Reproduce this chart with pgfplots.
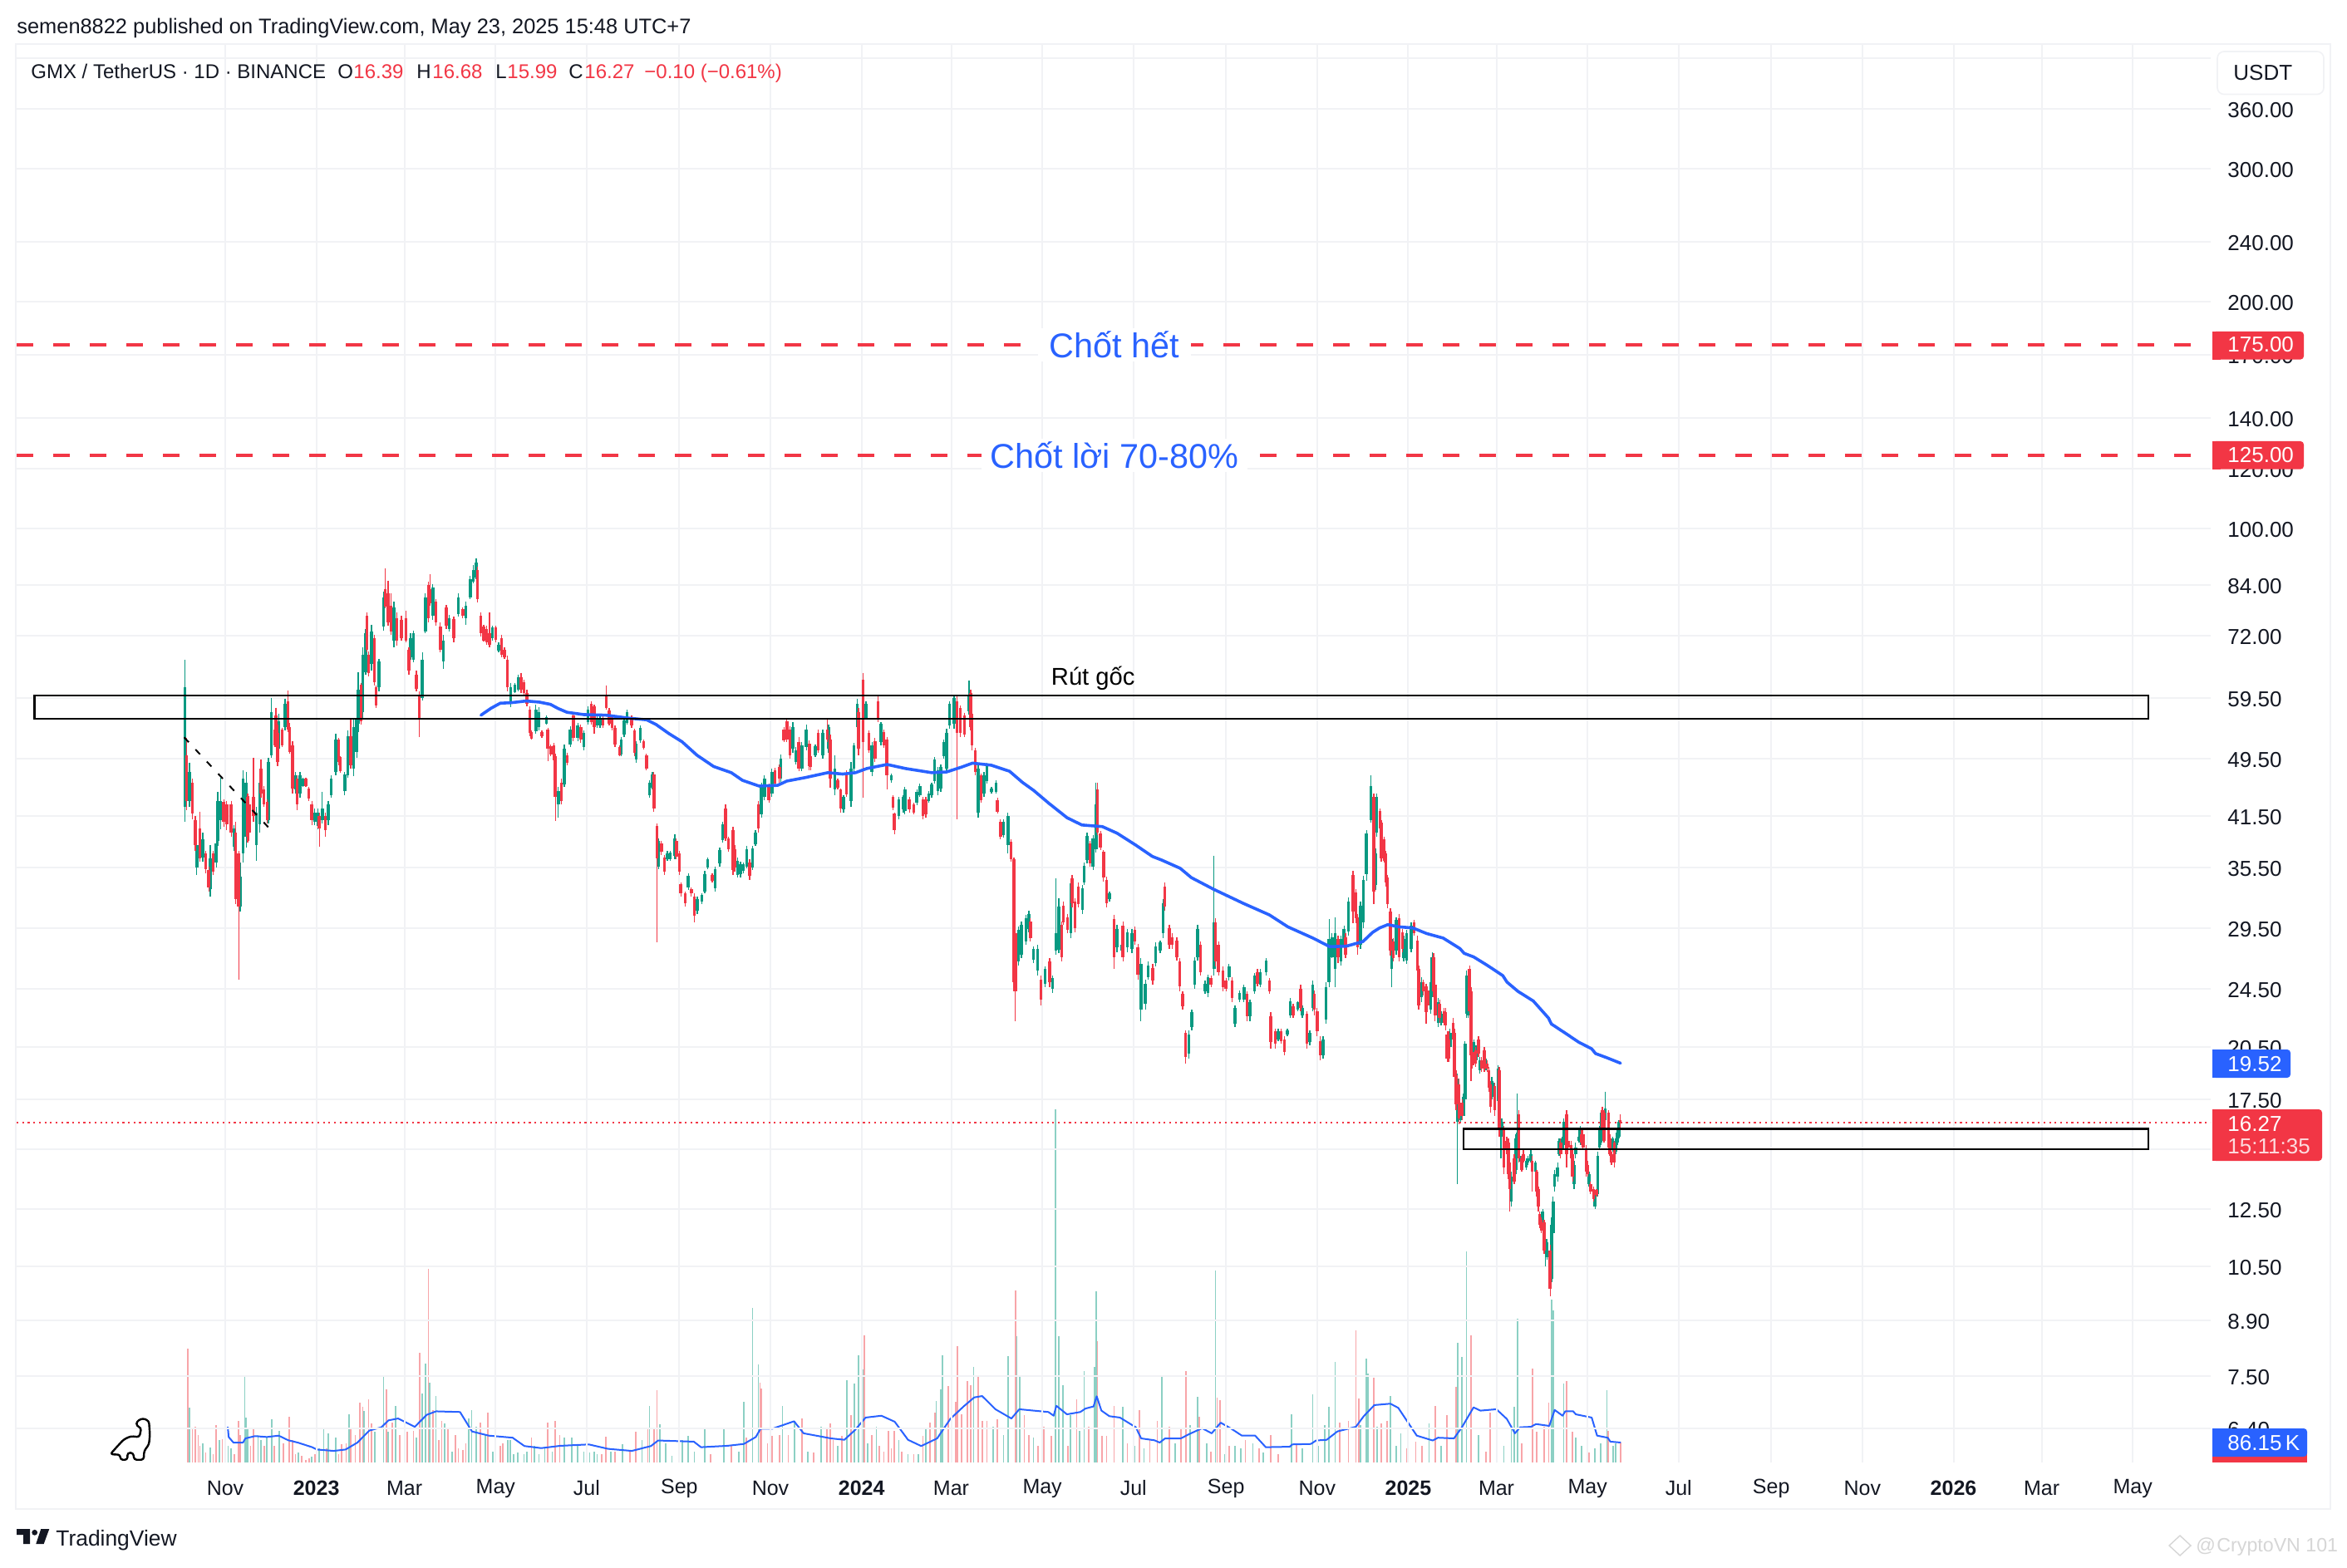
\documentclass[border=0pt]{standalone}
\usepackage{pgfplots}
\usepackage{pgfplotstable}
\usepackage{fontspec}
\setmainfont{Liberation Sans}
\pgfplotsset{compat=1.18}
\definecolor{tvred}{HTML}{F23645}
\definecolor{tvgreen}{HTML}{089981}
\definecolor{tvblue}{HTML}{2962FF}
\definecolor{tvink}{HTML}{131722}
\definecolor{tvgrid}{HTML}{F1F2F5}
\definecolor{volred}{HTML}{F8A5A9}
\definecolor{volgreen}{HTML}{8CD0C4}
\pgfplotstableread{
d o h l c
-27 42.7 66.9 40.8 61.6
-26 50 52.7 42.3 43.5
-24 43.5 48.9 42.7 47.5
-22 46 46.5 41.1 41.8
-20 41 41.5 37.3 38
-19 35.5 38.7 34.7 38
-17 40 42.1 36.1 36.5
-15 36.6 39.5 36.1 38.7
-13 37 37.3 34.9 35.3
-11 35.2 35.6 33 33.4
-10 33.2 38 32.5 36.5
-8 37 37.3 34.7 35
-6 36 38.8 35.5 38.2
-5 38.5 44.7 37.9 43.5
-3 41 46.7 39.9 43.5
-1 43.4 43.7 40.2 40.8
1 43 43.5 39.8 40.5
4 43 43.5 39 39.5
6 37.8 40.4 37.3 40
7 39.5 40.8 31.7 32.2
9 37 37.3 25.2 31.5
10 31.5 36 31 34.5
12 37 47.7 36 46.5
14 39 47.5 37.7 46
15 44 44.5 38.3 39
16 43 44.1 38.5 39.5
19 44 49.6 40.8 41.5
21 38 42.7 36.2 42
23 40.5 46.9 39.5 46
24 48 49.4 43.9 44.5
26 45 45.5 42.7 43
28 43.3 43.7 40.6 41
29 41 49.6 40.6 49
31 50 59.6 49.6 57
33 54 54.9 51.2 51.5
34 56.5 57.8 51.2 52
35 53.5 54.9 48.3 49
36 51 56.8 50.7 55.5
38 54 54.4 51.2 51.5
40 54.5 59.4 53.9 58.5
42 59 60.9 53.6 54
43 54.5 55.2 50.2 50.5
45 51.5 52.2 44.5 45.2
47 45 47.5 44.5 47
48 46.5 47 42.3 43
50 44.5 47.5 43.9 47
52 45.5 46.7 45.4 46.5
54 46.5 46.7 45.4 45.5
56 45.2 45.4 43.5 43.8
58 43 43.5 40.4 41
60 40.8 42.5 40.4 42
62 40.3 42.5 39.9 42
63 41.5 41.9 37.8 40
65 41 44.7 40.6 42.5
67 41.5 41.9 39 39.8
69 41 43.5 40.4 43
71 44.2 47 43.9 46.5
74 47.5 53.4 47 52.5
76 52.5 52.7 48.5 49
77 49.7 49.9 47.4 47.6
80 44.8 47.5 44.3 47.2
82 47 53.9 46.7 53
84 53 55.7 48 48.5
86 48 56 46.9 54.5
88 50.5 57.7 49.6 56
89 55 64.5 53.6 61
91 62 62.4 54.9 55.5
92 57 69.5 56 68
94 64.5 73.5 63.9 72.5
95 76.5 77.4 68.4 69
96 68 68.7 63.6 64.2
98 66 74.5 64.7 73
100 71.5 72.2 61.9 62.5
101 61.5 61.9 57.7 58.2
103 61.5 67.1 60.7 66.5
106 74 82.3 73.2 81
107 83 88.5 78.3 78.8
109 82 85.2 74.3 75
111 79 82 72.2 73
113 71 79.9 69.5 78.5
115 76 77.4 69.8 71
118 75.5 76.6 70.9 71.5
121 76 77.8 70.6 71
123 69 69.5 64 64.8
124 67.5 72.5 66.9 71.5
126 67 73.2 66.4 72.5
128 64 64.7 60.7 61.3
130 60 60.7 52.9 56
132 59.5 68.4 59.1 67
134 73 82 72.5 81
136 84 84.9 75 76
137 83 87 79 79.5
139 76.5 84.4 75.5 83.5
141 80 80.5 74.3 75
144 74 75 68.4 69
146 66.5 72.2 65 71
148 78.5 79.1 73.5 74.2
150 73.5 76.8 72.9 76
153 75.8 76.4 70.5 71.5
156 77 82 76.4 81
159 78.2 78.6 75.9 76.5
161 76 80 74.5 79
164 81 86.4 80.5 85.5
166 85 89.3 84.5 88
168 86 91.2 85.5 90
169 88 88.9 79.7 80.5
171 76.5 77.4 71.9 72.5
173 74 74.5 70.7 71
175 73.5 74.3 70 70.5
177 72.5 77.4 69.5 70
179 71.5 74.3 70.9 73.8
181 73.8 74.3 70.6 71.2
183 68.8 70.5 68.4 70
185 71.5 72.2 67.4 68
187 69 69.5 67.1 67.5
189 67 67.8 60.7 61.5
191 59 62.4 57.9 61.5
194 60.6 62.4 60.4 62
196 61 64 60.7 63.5
198 63.5 64.3 60.4 61
200 62.5 63 60.1 60.5
202 60.5 61 58 58.5
204 57.5 58 53 53.5
205 53.7 53.9 52.4 52.6
208 53.8 58.3 53.4 57.5
210 54.5 57.9 53.9 57
212 53.7 53.9 52.7 53
215 55 56.5 54.9 56.2
216 54 54.4 49.1 51
218 51.4 51.6 49.9 50.1
220 51.5 51.9 48.9 49.2
221 49.8 50.2 40.9 44
223 43 45.4 41.3 44.8
225 46 46.5 43 43.5
227 45.7 51.6 45.4 51
229 50 50.4 48.5 48.8
231 51.6 54.6 51.2 54
233 56.5 57 52.2 52.7
236 52.7 55.2 52.2 54.8
238 54.5 54.9 51.9 52.4
240 51.2 53.9 50.7 53.5
243 55.3 58 54.9 57.5
245 58.5 59 54.9 55.3
247 58 58.3 53.4 54.5
249 54.7 56.3 54.4 56
251 54.8 56.3 54.4 56
253 56 56.3 54.4 54.7
255 60 61.9 57.4 57.8
257 57.3 57.7 54.7 55
259 56.2 56.5 53.9 54.3
261 54.4 54.7 51.2 51.6
264 51.2 51.5 49.8 50
265 50.1 52.9 49.8 52.5
267 53.2 56 52.9 55.6
269 55.2 57.4 54.9 57
272 56.2 56.5 54.4 54.7
274 53.9 54.2 49.9 50.3
275 49.3 52.2 48.9 51.8
278 52.3 54.7 51.9 54.4
280 52.2 52.4 50.9 51.1
282 50 50.2 47.7 48
284 44.2 46.3 43.9 46
286 45.3 47.5 45 47.2
287 47.2 47.5 42.1 42.5
289 40.3 40.6 28.2 36.5
290 35.6 38.8 35.3 38.5
292 38.2 38.5 36.9 37.2
294 36.6 36.9 34.7 35
296 36.4 37.3 36.2 37
298 36.4 37.3 36.2 37.1
301 36.8 39.3 36.4 38.8
302 38.5 38.8 36.4 36.7
304 37 37.3 34.7 35
305 33.7 33.9 32.5 32.8
308 32.8 33 31.5 31.8
310 33.4 34.9 33.1 34.6
312 33.2 33.4 32.5 32.8
314 32.5 32.8 30 30.6
316 31.1 32.5 30.8 32.2
319 32 32.8 31.7 32.6
321 33 35.1 32.8 34.8
323 35.5 36.6 35.3 36.4
326 34.7 34.9 33.9 34.1
328 33.3 35.6 33 35.3
331 35.9 37.7 35.6 37.4
333 38.6 40.8 38.3 40.5
335 42.5 43 38.5 38.8
337 38.8 39 37.2 37.5
340 39.8 40.2 34.7 35.2
341 37.5 38 35 35.5
343 34.7 36.6 34.4 36.2
345 34.8 36.1 34.4 35.8
347 35.1 36 34.9 35.8
349 35.6 37.9 35.4 37.5
351 36 36.4 34.2 34.6
353 35.5 37.9 35.2 37.6
355 38.1 39.8 37.9 39.5
357 43 43.5 39.5 40
359 41.7 46 41.3 45.5
361 44 47 43.6 46.5
364 45.5 45.8 43.2 43.6
366 44.5 48 44 47.5
368 47.8 48.1 45.4 45.8
371 48.2 48.6 46 46.5
372 46.5 50.1 46 49.5
374 54 54.5 52 52.3
376 55.5 56 52 52.5
378 54 54.6 49.5 50
380 51 55.3 50.3 54.5
382 49 51.2 48.6 50.8
384 52 52.9 47.6 48
386 48 52.1 47.6 51.5
389 51.2 54.9 50.7 54
391 51.8 52.3 47.8 48.3
392 49.8 50.1 47.8 48.2
395 50 51.7 49.7 51.4
397 53.5 54 50.3 50.8
400 50 54 49.5 53.5
403 54 56 52 52.5
404 51 54.9 50.3 54.5
405 52.5 53.2 45.3 46.5
408 45 50 44.3 48
410 46.3 46.6 45 45.3
412 45 45.2 42 42.5
414 42.4 44.3 42 44
416 47.2 47.8 44 44.4
419 43.5 49 42.7 48
421 48 51.9 47.5 51.5
423 54.5 59.4 53.9 58.5
424 57 57.8 50 51
427 63 64.3 43.9 52
429 56 58.9 55.7 58.5
431 53.5 53.9 50.3 50.8
433 47.5 52.1 46.9 51.5
435 52.2 52.7 49 49.5
437 59 60 55.3 55.7
439 52 55.3 51.5 55
441 53.7 54 51.1 51.5
443 52.5 52.9 45 47
446 46.3 47.3 46 47
447 44 44.3 42.3 42.6
448 41.8 42 39.3 39.8
451 41.5 44 41.1 43.7
454 42.4 44.3 42 44
455 42.2 45.4 41.7 45
458 43.7 44 42 42.4
461 43 43.2 41.7 42
463 43.2 45 42.9 44.7
465 44.2 45.8 44 45.5
467 43.7 44 41.1 41.5
469 43.7 44 41.3 41.7
471 43.5 44.8 43.2 44.5
473 44.2 46 43.9 45.7
475 46.2 49.7 45.8 49.3
477 44.8 48.2 44.3 47.8
479 45.2 48.6 44.7 48.2
481 49.8 52.4 49.5 52
483 48 54.2 47.5 53.5
485 54.7 59 54.2 58.5
488 55 60 54.2 59.5
490 59 60 41.1 53.5
492 57.7 58.2 52.9 53.5
495 56.5 56.9 52.9 53.2
498 57.2 62.8 56.6 60
499 60.5 61 53.9 54.5
500 56.8 57.2 50.7 51.5
502 50.7 51.1 47 47.5
504 42 48.6 41.3 48
506 47 47.3 43.2 43.6
508 44.5 47.5 44 47
510 46.2 48.8 45.8 48.4
513 44.7 45.4 44.5 45.2
516 44.7 46.3 44.5 46
517 43.6 43.9 41.8 42.1
519 40.8 41.1 38.7 39
521 39.2 41.1 38.9 40.8
524 38 41.9 37 41.5
526 38.4 38.7 36.1 36.4
528 36.4 36.6 24.3 25
529 29 29.6 22.2 24.3
531 26.6 29.6 26.3 29.3
533 27.2 30.1 26.9 29.8
536 28.3 30.7 28 30.4
538 29.4 31.1 29.1 30.8
539 30.1 30.4 28.3 28.6
541 26.8 27.9 26.5 27.7
544 25.9 28 25.5 27.7
546 25.2 25.5 23.3 23.7
549 24.9 26.2 24.6 26
552 26.6 26.9 24.6 25
554 24.5 25.5 24.2 25.3
556 27.5 34.3 27.2 29
558 27.6 32.3 27.3 31.5
560 29.8 30.1 26.6 27
561 31.6 32 29.8 30
564 30.5 30.8 29 29.3
566 29 34.2 28.6 33.8
567 34.3 34.7 31.4 31.8
569 32 32.3 29.1 29.5
571 33.5 33.9 31.4 31.7
574 31.2 33.6 30.8 33.3
575 33.9 36 33.6 35.7
577 36.3 39.5 35.9 39.1
579 38.2 38.5 35.6 35.9
581 35.6 39.2 35.2 38.8
583 37.5 46 37.1 43
584 45 46 39.2 39.5
586 39.4 39.7 37.4 37.7
588 37.2 37.4 34 34.4
590 34.2 34.5 31.4 31.8
592 32.2 33 32 32.8
595 30.3 30.7 26 27
597 27.8 29.8 27.4 29.4
600 27.5 28.3 27.3 28
601 29.7 30.1 26.6 27
604 27.8 29.4 27.4 29.1
607 27.7 29.4 27.3 29
609 29.3 29.6 28 28.3
611 27.8 28.1 25.2 25.6
613 23 26.9 22.2 26.4
616 23.4 25.2 23 24.9
618 25.4 26.6 25.2 26.3
621 26.1 26.4 24.8 25.1
623 26.5 28.2 26.2 27.9
626 27.5 28.4 27.3 28.2
628 29 32.2 28.6 31.8
629 33.5 33.9 31.1 31.5
632 29.5 29.8 27.7 28
634 28.7 29 27.7 28
637 28.4 28.7 26.7 27
639 26.6 26.9 24.3 24.7
641 24.1 24.3 23 23.2
643 21.4 21.6 19.5 19.9
645 20.1 21.6 19.8 21.3
647 21.8 23 21.6 22.8
649 24.8 27 24.5 26.7
651 27 29.8 26.7 29.4
653 28 28.3 25.5 25.8
656 24.3 25.1 24.1 24.9
658 24.2 25.6 23.9 25.4
660 25.3 25.5 24.6 24.8
662 26 36.8 25.5 30
663 30 30.4 26.2 26.6
665 28 28.3 25.5 25.8
668 25.9 26.2 24.3 24.6
670 25.1 25.3 24.3 24.5
672 25.4 26.4 25.1 26.2
674 25.1 25.4 23.5 23.8
676 22 23.3 21.8 23.1
679 23.7 24.4 23.5 24.2
682 23.7 24.8 23.5 24.6
684 24.1 24.3 22.2 22.5
686 22.5 23.7 22.2 23.5
689 24.3 25.7 24.1 25.5
691 25.8 26 24.7 24.9
693 24.8 26 24.6 25.8
697 25.8 26.9 25.5 26.7
699 25.1 25.3 24.1 24.3
700 22.5 22.8 20.4 20.8
703 21.5 21.7 20.4 20.7
705 21 21.7 20.9 21.5
707 21.5 21.7 20.7 20.9
709 21 21.2 20 20.2
711 21.3 21.7 21.2 21.6
713 22.6 23.8 22.4 23.6
715 23.2 23.4 22.4 22.6
718 23 23.6 22.9 23.5
720 24.5 24.8 22.9 23.1
721 22.6 23.3 22.4 23.1
724 22.7 22.9 20.4 20.7
726 20.8 21.6 20.6 21.4
728 23.1 25.1 22.9 24.8
729 24.1 24.4 22.6 23
731 22.9 23.1 21.2 21.5
733 20.9 21.2 19.7 20
735 20 21.2 19.8 21
737 22.3 25 22 24.6
739 25 30.3 24.6 28.5
741 27 29 26.9 28.7
743 26 30.5 24.6 29
745 28.5 28.8 26.5 27
747 26.6 28.8 26.3 28.5
749 27.8 29.7 27.5 29.4
750 28.7 29 26.9 27.2
752 29.2 32.4 28.8 32
755 34.7 35.1 29.9 31
757 32.9 33.2 29.9 30.4
758 30.5 30.8 27.2 27.8
760 28 32 27.7 31.6
762 30 34.6 29.5 34.2
764 34.8 39.8 34.1 39.4
767 41 47 40.7 45.5
769 44 44.5 31.7 33
770 33.6 37.6 33.1 37
771 39.5 44.5 39 44
773 42.2 42.5 39.7 40
774 40.7 41 36.1 36.5
776 38.7 39 36 36.2
777 37 37.3 33.5 33.9
778 34.4 34.7 31.3 31.7
780 31 31.3 27.1 27.5
781 26 29.7 24.6 28.5
782 28.3 28.6 26.6 26.9
784 27.5 30.5 27.2 30.2
786 30.4 30.8 26.6 27
788 29.1 29.4 27.4 27.7
789 26.9 28.8 26.6 28.5
791 26.7 29.3 26.4 29
794 27.7 30 27.4 29.7
796 30 30.2 28.8 29
798 28.4 28.8 25.6 25.9
799 26 26.3 23 23.3
801 23.9 25.4 23.5 25
802 25 25.2 24 24.3
804 24.7 24.9 22 22.8
805 24.4 24.6 23 23.3
807 23 25.3 22.7 25
808 24.3 27.4 23.9 27
809 27 27.3 23.9 24.3
810 24.8 25 22.2 22.6
812 22.1 23.8 21.8 23.5
813 23.4 23.7 22.1 22.4
814 22.1 22.9 21.9 22.7
816 22.9 23.1 21.9 22.1
817 22.8 23.1 21.6 21.9
818 21.3 21.5 19.6 19.8
819 21 21.5 19.6 19.8
820 20.5 21.7 20.3 21.4
822 22.1 22.4 20.8 21
823 21.4 21.7 18.3 18.7
824 18.8 19.1 16.9 17.2
825 16.3 18.9 13.5 18.6
826 18.3 18.6 16.2 16.5
827 16.4 17.2 16.3 17
828 17.3 17.5 16.4 16.6
829 16.8 17.8 16.6 17.6
830 17.5 20.9 16.6 20.7
831 22.7 25.9 22.4 25.5
832 22.6 24.9 22.4 24.6
833 26 26.3 22.7 22.9
834 24.3 24.6 18.5 20
835 20.2 20.4 19.2 19.4
836 19.7 21 19.5 20.8
837 20.3 20.5 19.3 19.5
838 19.9 20.8 19.7 20.6
839 21 21.2 19.9 20.1
840 19.1 19.9 18.9 19.7
841 19.7 19.9 19 19.2
843 20.3 20.5 19 19.2
844 19.3 19.8 19.1 19.6
845 19.5 19.7 19 19.2
846 19.1 19.3 17.9 18.1
847 18.3 18.5 16.8 17.1
848 17.7 18.7 17.5 18.5
849 17.8 18.4 17.6 18.2
850 18.2 18.4 16.6 16.9
852 17.4 19.4 17.2 19.2
853 19.1 19.3 15.6 16
854 15.6 16.5 14.6 16.4
855 15.8 16.5 15.6 16.3
856 15.9 16.1 13.9 14.2
858 15.4 15.6 14.8 15
859 15.3 15.5 13.7 13.9
860 14.4 14.6 12.4 13.3
861 12.8 14 12.6 13.8
863 14.6 14.8 13.5 13.6
864 14.1 15.7 13.9 15.5
865 14.6 17.8 14.4 15.8
866 16.7 16.9 14.4 14.6
867 14.45 14.7 14.4 14.65
868 14.6 14.7 14 14.1
869 14.8 15 14.4 14.5
871 14.2 14.6 14.1 14.5
872 14.4 14.7 14.3 14.6
874 14.5 15 14.4 14.8
875 14.5 14.7 13.2 14
877 14 14.5 13.9 14.4
878 14 14.1 13 13.2
879 13.3 13.4 12.4 12.6
880 12.3 12.4 11.8 11.9
881 12.1 12.2 11.6 11.7
882 12 12.5 11.9 12.4
883 12 12.1 10.9 11
884 10.9 11.5 10.5 11.4
885 10.8 11.4 10.7 11.3
887 11 11.2 9.57 9.8
888 10.1 12.2 10 11.9
889 11.6 13 11.4 12.8
890 13.4 14.1 13.2 13.9
892 13.8 14.4 13.6 14.2
893 14.8 15.5 14.7 15.4
894 15.3 15.5 14.6 14.8
895 15 15.6 15 15.5
896 15.2 16.5 15 16.3
898 16.7 16.9 14.2 14.8
899 15.4 15.5 15 15.1
901 15.2 15.4 14.4 14.6
902 14.8 15 13.6 13.8
903 13.5 14.5 13.3 14.3
904 14.8 15.3 14.6 15.1
906 15.4 15.7 15.3 15.6
907 15.3 16.1 15.2 16
908 15.7 15.9 15.2 15.3
909 15.7 15.9 15 15.1
911 15 15.2 13.8 14
912 14.3 14.5 13.8 13.9
913 13.5 14 13.4 13.9
914 13.5 13.6 13.1 13.2
916 13.3 13.4 12.8 12.9
917 12.6 13.1 12.5 13
918 13.25 13.3 13 13.05
919 13.1 14.9 13 14.7
920 15.1 16.1 15 16
921 15.3 16.9 15.2 16.8
922 16.9 17.1 15.9 16
923 16.8 16.9 15.3 15.4
924 16.4 17.9 16.3 17
926 16.8 16.9 15 15.1
927 15.5 15.7 14.7 14.8
928 14.8 14.9 14.3 14.4
929 15 15.6 14.9 15.5
930 15.3 15.4 14.2 14.4
931 14.9 15.6 14.8 15.5
932 15.3 15.9 15.2 15.8
933 15.6 16.4 15.5 16.3
934 16.39 16.68 15.99 16.27
}\candles
\pgfplotstableread{
d v
-25 492
-22 144
-20 156
-18 117
-17 72
-13 42
-8 36
-6 162
-2 102
0 132
6 36
9 180
10 120
17 72
19 144
26 72
33 72
39 84
43 198
45 96
47 36
51 30
54 12
56 18
60 36
68 60
76 36
78 78
81 84
84 144
87 120
90 257
92 239
96 273
98 168
108 316
112 174
117 120
122 132
126 138
130 474
136 837
139 227
143 96
145 180
149 144
154 120
156 60
159 54
161 84
171 174
176 215
181 36
184 72
186 84
205 108
216 174
221 180
224 120
252 36
255 110
261 48
271 48
275 134
283 144
287 144
289 314
304 144
325 36
339 72
349 108
358 344
359 318
363 84
366 114
371 120
377 120
386 189
394 42
403 150
405 168
407 96
413 114
419 203
428 549
433 120
438 72
441 48
444 138
446 60
448 138
453 48
461 36
467 114
472 174
475 215
484 329
489 263
490 503
493 209
497 353
499 335
504 371
507 180
510 180
517 186
529 742
535 203
538 120
544 72
548 156
553 114
564 72
570 273
578 156
584 524
587 114
590 114
595 243
604 84
612 227
619 96
624 180
632 156
640 144
643 395
652 198
660 48
664 279
666 269
672 72
683 96
692 60
700 120
705 36
717 78
746 174
752 180
757 571
759 275
769 365
774 168
778 180
791 60
797 90
801 72
810 245
818 203
824 326
834 549
844 48
847 215
851 138
868 84
875 407
878 132
883 156
886 257
898 351
902 132
913 42
926 138
934 86.15
}\voldown
\pgfplotstableread{
d v
-24 236
-15 84
-10 66
-4 96
2 72
4 60
13 371
14 194
15 144
22 120
24 96
28 108
31 186
36 135
49 42
58 24
63 60
66 146
69 126
74 108
83 209
93 221
100 132
106 377
109 132
114 244
120 144
128 108
132 299
134 426
137 345
141 287
147 168
152 48
163 192
165 227
168 156
174 120
179 48
189 96
191 96
193 36
196 42
200 36
202 48
207 72
210 36
214 60
219 48
227 108
232 108
236 72
240 48
244 42
247 48
249 36
258 48
266 78
279 96
284 245
291 165
295 84
299 30
306 96
310 114
314 48
321 150
334 150
344 48
347 261
353 667
357 423
373 243
381 180
390 48
399 156
410 72
416 356
421 341
424 462
427 401
430 84
436 156
451 96
457 36
464 36
469 144
476 266
479 317
480 462
486 431
501 414
514 156
521 120
524 460
530 545
532 371
541 108
556 1526
558 545
561 335
566 203
572 138
575 395
582 413
583 740
601 239
609 72
615 60
627 371
636 84
646 162
651 282
657 84
663 830
669 36
676 72
680 60
688 84
695 42
714 209
721 60
728 293
732 72
736 162
739 239
743 433
760 162
764 449
765 383
771 156
780 287
784 72
787 126
806 168
814 72
825 518
828 455
831 912
839 120
856 72
861 156
863 239
865 620
888 703
889 657
896 341
904 108
908 72
917 60
921 84
925 311
929 72
931 84
}\volup
\pgfplotstableread{
d v
1.7 154
2.3 110
5.5 86
11.9 86
13.5 104
19.9 114
27.9 110
35.8 116
42.2 96
48.6 86
58.2 66
61.4 56
72.6 50
80.6 56
88.5 86
96.5 138
104.5 152
109.3 182
115.7 190
126.9 154
134.9 206
141.2 221
157.2 218
165.2 134
176.4 116
192.4 107
200.3 71
211.5 62
224.3 72
243.4 78
256.2 59
272.2 50
285 71
289.8 95
313.7 90
318.5 66
336.1 72
347.2 80
355.2 110
358.4 146
366.4 146
380.8 178
387.2 126
405.6 104
414.5 98
421.6 140
428.7 194
439.3 202
448.2 176
457.1 98
465.9 71
476.6 104
485.4 188
494.3 242
501.4 281
506.7 287
515.6 230
526.3 190
531.6 230
551.1 218
554.6 202
556.4 245
563.5 208
572.4 218
575.9 233
581.3 242
583.4 286
586.6 224
591.9 200
599 194
609.6 152
613.2 104
622 96
625.6 86
629.2 104
639.8 104
645.1 122
654 148
660.4 126
666.4 172
673.5 146
680.6 116
689.5 116
696.6 66
712.6 68
714.3 78
726.8 80
730.3 95
737.4 98
744.5 134
756.9 154
762.2 200
769.3 248
780 254
785.3 236
797.7 116
808.4 95
811.9 107
822.6 104
827.9 152
835.7 238
840.3 224
851 230
858 188
863.4 126
866.9 152
874 154
877.6 166
886.4 158
890 227
895.3 202
897.1 221
902.4 221
904.2 208
914.8 194
918.4 116
925.5 107
927.3 90
934.3 86.15
}\volma
\pgfplotstableread{
d p
171.2 56.5
177.9 57.7
184.1 58.6
191.6 58.7
201.5 59
210.2 58.8
217.7 58.4
222.6 57.7
228.8 57
240 56.6
254.9 56.5
269.8 56
282.2 55.7
288.5 54.9
297.1 53.4
305.8 52.1
315.8 50
327 48.3
338.8 47.4
346.3 46.3
357.4 45.5
369.8 45.6
376 46.2
388.5 46.7
403.4 47.4
413.3 47.2
422 47.4
429.5 48
443.1 48.6
455.5 48
472.9 47.4
482.9 47.5
492.8 48.2
500.3 48.8
512.7 48.5
525.1 47.6
533.8 46
541.2 44.9
551.2 43.2
563.6 41.3
573.5 40.4
587.2 40.2
597.1 39.4
609.5 38
620.7 36.7
626.9 36.3
639.3 35.4
646.8 34.4
661.7 33.2
681.6 31.8
699 30.7
711.4 29.6
728.2 28.6
739.4 27.86
750.5 27.9
761.7 28.3
768.1 29.1
772.8 29.5
778.3 29.8
785.8 29.6
795 29.5
804.3 29
815.4 28.6
826.6 27.7
829.4 27.3
835.8 27
845.1 26.3
855.3 25.5
858.1 25
865.5 24.3
875.7 23.6
885.9 22.4
887.8 22
897 21.4
906.3 20.8
914.7 20.4
917.4 20.1
924.9 19.85
934.1 19.52
}\priceMA
% shared geometry of the pane
\pgfplotsset{pane/.style={
  scale only axis, width=1320pt, height=853.5pt,
  at={(10pt,63pt)}, anchor=south west,
  xmin=-139.65, xmax=1329.2, clip=true,
}}
\newcommand{\Px}[2]{({#1*0.5pt},{(1886-#2)*0.5pt})}
\newcommand{\tvtxt}[4][tvink]{\node[anchor=west,inner sep=0pt,text=#1,font=\fontsize{13}{15}\selectfont] at \Px{#2}{#3} {\strut #4};}
\newcommand{\lgtxt}[4][tvink]{\node[anchor=west,inner sep=0pt,text=#1,font=\fontsize{12}{14}\selectfont] at \Px{#2}{#3} {\strut #4};}
\begin{document}
\begin{tikzpicture}
\path[use as bounding box] (0,0) rectangle (1412pt,943pt);
\fill[white] (0,0) rectangle (1412pt,943pt);
\draw[tvgrid,line width=1pt] \Px{19}{53} rectangle \Px{2804}{1816};
% volume pane
\begin{axis}[pane, hide axis, ymin=0, ymax=6128]
\addplot[ycomb, no markers, draw=volred, line width=0.85pt] table[x=d,y=v] {\voldown};
\addplot[ycomb, no markers, draw=volgreen, line width=0.85pt] table[x=d,y=v] {\volup};
\addplot[no markers, draw=tvblue, line width=1pt, line join=round] table[x=d,y=v] {\volma};
\end{axis}
% price pane
\begin{axis}[pane, ymode=log, ymin=5.765, ymax=438.8,
  axis line style={draw=none}, tick style={draw=none}, major tick length=0pt,
  grid=major, grid style={draw=tvgrid, line width=1pt},
  xtick={0,61,120,181,242,304,365,426,486,547,608,670,731,792,851,912,973,1035,1096,1157,1216,1277},
  xticklabels={Nov,\textbf{2023},Mar,May,Jul,Sep,Nov,\textbf{2024},Mar,May,Jul,Sep,Nov,\textbf{2025},Mar,May,Jul,Sep,Nov,\textbf{2026},Mar,May},
  x tick label style={anchor=center, yshift=-15.5pt, inner sep=0pt, text=tvink, font=\fontsize{12.5}{15}\selectfont},
  yticklabel pos=right,
  ytick={6.4,7.5,8.9,10.5,12.5,15,17.5,20.5,24.5,29.5,35.5,41.5,49.5,59.5,72,84,100,120,140,170,200,240,300,360,420},
  yticklabels={6.40,7.50,8.90,10.50,12.50,,17.50,20.50,24.50,29.50,35.50,41.50,49.50,59.50,72.00,84.00,100.00,120.00,140.00,170.00,200.00,240.00,300.00,360.00,},
  y tick label style={anchor=west, xshift=10pt, yshift=-0.8pt, inner sep=0pt, text=tvink, font=\fontsize{13}{15}\selectfont},
  log basis y=10,
]
% wicks
\addplot[draw=none, no markers, forget plot, restrict x to domain=-200:2000,
  error bars/.cd, y dir=minus, y explicit, error mark=none,
  error bar style={draw=tvgreen, line width=0.65pt}]
  table[x expr={\thisrow{c}>=\thisrow{o} ? \thisrow{d} : 5000}, y=h, y error minus expr={\thisrow{h}-\thisrow{l}}] {\candles};
\addplot[draw=none, no markers, forget plot, restrict x to domain=-200:2000,
  error bars/.cd, y dir=minus, y explicit, error mark=none,
  error bar style={draw=tvgreen, line width=1.75pt}]
  table[x expr={\thisrow{c}>=\thisrow{o} ? \thisrow{d} : 5000}, y=c, y error minus expr={\thisrow{c}-\thisrow{o}}] {\candles};
\addplot[draw=none, no markers, forget plot, restrict x to domain=-200:2000,
  error bars/.cd, y dir=minus, y explicit, error mark=none,
  error bar style={draw=tvred, line width=0.65pt}]
  table[x expr={\thisrow{c}<\thisrow{o} ? \thisrow{d} : 5000}, y=h, y error minus expr={\thisrow{h}-\thisrow{l}}] {\candles};
\addplot[draw=none, no markers, forget plot, restrict x to domain=-200:2000,
  error bars/.cd, y dir=minus, y explicit, error mark=none,
  error bar style={draw=tvred, line width=1.75pt}]
  table[x expr={\thisrow{c}<\thisrow{o} ? \thisrow{d} : 5000}, y=o, y error minus expr={\thisrow{o}-\thisrow{c}}] {\candles};
% moving average
\addplot[no markers, draw=tvblue, line width=1.8pt, line cap=round, line join=round] table[x=d,y=p] {\priceMA};
% drawn objects
\addplot[no markers, black, line width=1pt, dash pattern=on 4pt off 6pt] coordinates {(-27.5,52.8) (32.6,39.4)};
\addplot[no markers, black, line width=1.1pt, line cap=rect] coordinates {(-127.7,60) (1287.4,60) (1287.4,55.9) (-127.7,55.9) (-127.7,60)};
\addplot[no markers, black, line width=1.1pt, line cap=rect] coordinates {(829,15.97) (1287.4,15.97) (1287.4,15) (829,15) (829,15.97)};
\addplot[no markers, tvred, line width=1pt, dash pattern=on 1.1pt off 2.25pt] coordinates {(-139.65,16.27) (1329.2,16.27)};
\addplot[no markers, tvred, line width=2pt, dash pattern=on 10pt off 12pt] coordinates {(-139.65,175) (1316,175)};
\addplot[no markers, tvred, line width=2pt, dash pattern=on 10pt off 12pt] coordinates {(-139.65,125) (1316,125)};
\node[fill=white, text=tvblue, inner sep=0pt, minimum width=92pt, minimum height=20pt, font=\fontsize{20.7}{24}\selectfont] at (axis cs:595.3,175) {Chốt hết};
\node[fill=white, text=tvblue, inner sep=0pt, minimum width=160pt, minimum height=20pt, font=\fontsize{20.7}{24}\selectfont] at (axis cs:595.3,125) {Chốt lời 70-80\%};
\node[text=black, inner sep=0pt, font=\fontsize{14.6}{18}\selectfont] at (axis cs:581,63.2) {Rút gốc};
\end{axis}
% header and legend
\node[anchor=west,inner sep=0pt,text=tvink,font=\fontsize{12.7}{15}\selectfont] at \Px{20}{35} {\strut semen8822 published on TradingView.com, May 23, 2025 15:48 UTC+7};
\lgtxt{37}{89}{GMX / TetherUS · 1D · BINANCE}
\lgtxt{406}{89}{O}
\lgtxt[tvred]{425}{89}{16.39}
\lgtxt{501}{89}{H}
\lgtxt[tvred]{520}{89}{16.68}
\lgtxt{596}{89}{L}
\lgtxt[tvred]{610}{89}{15.99}
\lgtxt{684}{89}{C}
\lgtxt[tvred]{703}{89}{16.27}
\lgtxt[tvred]{775}{89}{−0.10 (−0.61\%)}
% USDT button
\draw[tvgrid,fill=white,line width=0.8pt,rounded corners=4pt] \Px{2668}{62} rectangle \Px{2796}{113.5};
\tvtxt{2687}{91}{USDT}
% price labels
\newcommand{\pricetag}[5]{\fill[#1,rounded corners=2pt] \Px{2662}{#2} rectangle \Px{#3}{#4}; \fill[#1] \Px{2662}{#2} rectangle \Px{2672}{#4}; \tvtxt[white]{2680}{#5}}
\pricetag{tvred}{399}{2772}{432.6}{418}{175.00}
\pricetag{tvred}{531}{2772}{564.7}{551}{125.00}
\pricetag{tvblue}{1263}{2756}{1297}{1283}{19.52}
\pricetag{tvred}{1335}{2794}{1397}{1355}{16.27}
\tvtxt[white!82!tvred]{2680}{1382.5}{15:11:35}
\fill[tvred] \Px{2662}{1745} rectangle \Px{2776}{1760};
\pricetag{tvblue}{1719}{2776}{1753}{1739}{86.15\,K}
% dinosaur icon
\begin{scope}[shift={(50pt,193pt)},x=0.287pt,y=-0.1667pt]
\draw[black,fill=white,line width=1.2pt,line join=round,rounded corners=1.5pt]
 (125,620) -- (138,630) -- (140,680) -- (138,715) -- (128,738) -- (127,770) -- (107,770) -- (105,745) -- (93,745) -- (93,770) -- (78,770) -- (78,752) -- (57,750) -- (70,725) -- (85,697) -- (100,685) -- (118,688) -- (122,655) -- (112,648) -- (112,632) -- cycle;
\end{scope}
% TradingView logo and name
\fill[tvink] \Px{20}{1840} -- \Px{36}{1840} -- \Px{36}{1858} -- \Px{28}{1858} -- \Px{28}{1847} -- \Px{20}{1847} -- cycle;
\fill[tvink] \Px{41.7}{1844.3} circle (1.7pt);
\fill[tvink] \Px{49.3}{1840} -- \Px{59.3}{1840} -- \Px{52.7}{1858} -- \Px{43.3}{1858} -- cycle;
\node[anchor=west,inner sep=0pt,text=tvink,font=\fontsize{13.2}{15}\selectfont] at \Px{67}{1854} {\strut TradingView};
% watermark
\draw[black!16,line width=0.7pt] \Px{2610}{1860} -- \Px{2623}{1848} -- \Px{2636}{1860} -- \Px{2623}{1872} -- cycle;
\node[anchor=west,inner sep=0pt,text=black!16,font=\fontsize{11.6}{14}\selectfont] at \Px{2642}{1862} {\strut @};
\node[anchor=west,inner sep=0pt,text=black!16,font=\fontsize{11.6}{14}\selectfont] at \Px{2667}{1862} {\strut CryptoVN 101};
\end{tikzpicture}
\end{document}
